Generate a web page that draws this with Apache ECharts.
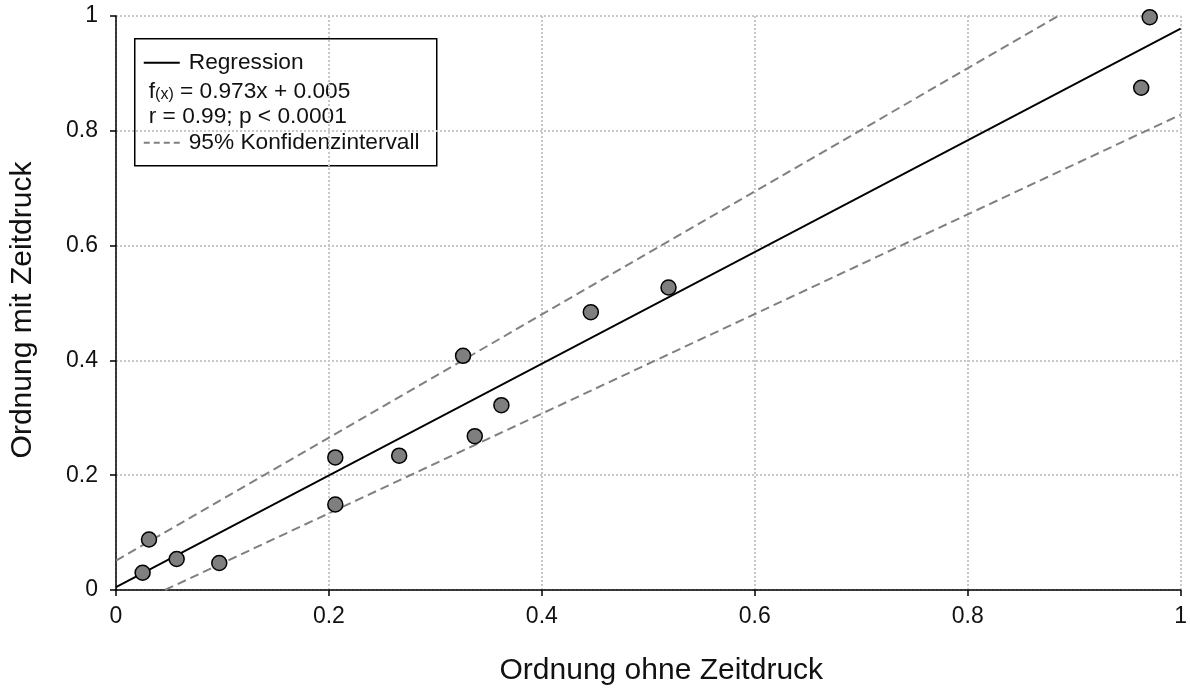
<!DOCTYPE html>
<html>
<head>
<meta charset="utf-8">
<title>Ordnung mit / ohne Zeitdruck</title>
<script src="https://cdn.jsdelivr.net/npm/echarts@6/dist/echarts.min.js"></script>
<style>
  html, body { margin: 0; padding: 0; background: #ffffff; }
  #chart { width: 1190px; height: 691px; }
</style>
</head>
<body>
<div id="chart"></div>
<script>
// Measured pairs: order without time pressure (x) vs. with time pressure (y)
const orderWithoutPressure = [0.025, 0.031, 0.057, 0.097, 0.206, 0.206, 0.266, 0.326, 0.337, 0.362, 0.446, 0.519, 0.963, 0.971];
const orderWithPressure    = [0.030, 0.088, 0.054, 0.047, 0.149, 0.231, 0.234, 0.408, 0.268, 0.322, 0.484, 0.527, 0.875, 0.998];

// Regression f(x) = slope * x + intercept
const slope = 0.973;
const intercept = 0.005;
const regressionX = [0, 1];

// 95% confidence band end points
const upperBand = [[0, 0.051], [0.885, 1]];
const lowerBand = [[0.046, 0], [1, 0.828]];

// Axis ticks
const axisMin = 0, axisMax = 1, axisStep = 0.2;

// Legend lines
const legendRows = ['Regression', 'f(x) = 0.973x + 0.005', 'r = 0.99; p < 0.0001', '95% Konfidenzintervall'];

const FONT = '"Liberation Sans", Arial, Helvetica, sans-serif';
const TEXT = '#111111';
const LEGEND_FONT = '22.7px ' + FONT;

const points = orderWithoutPressure.map((x, i) => [x, orderWithPressure[i]]);
const regressionLine = regressionX.map(x => [x, slope * x + intercept]);

const chart = echarts.init(document.getElementById('chart'), null, { renderer: 'canvas' });

const gridLine = { show: true, lineStyle: { color: '#c8c8c8', width: 2, type: [2, 2] } };
const tickFormatter = v => String(+v.toFixed(1));

function valueAxis(name, extra) {
  return Object.assign({
    type: 'value',
    min: axisMin,
    max: axisMax,
    interval: axisStep,
    name: name,
    nameLocation: 'middle',
    axisLine: { show: true, onZero: false, lineStyle: { color: '#000', width: 1.5 } },
    axisTick: { show: true, inside: false, length: 6, lineStyle: { color: '#000', width: 1.5 } },
    splitLine: gridLine
  }, extra);
}

const option = {
  backgroundColor: '#ffffff',
  animation: false,
  grid: { left: 116, right: 8, top: 16, bottom: 100, containLabel: false },
  xAxis: valueAxis('Ordnung ohne Zeitdruck', {
    nameGap: 66,
    nameTextStyle: { color: TEXT, fontFamily: FONT, fontSize: 30, padding: [0, 0, 0, 26] },
    axisLabel: { color: TEXT, fontFamily: FONT, fontSize: 23, margin: 15, formatter: tickFormatter }
  }),
  yAxis: valueAxis('Ordnung mit Zeitdruck', {
    nameGap: 78,
    nameRotate: 90,
    nameTextStyle: { color: TEXT, fontFamily: FONT, fontSize: 30, padding: [0, 14, 0, 0] },
    axisLabel: { color: TEXT, fontFamily: FONT, fontSize: 23, margin: 18, formatter: tickFormatter }
  }),
  series: [
    {
      name: '95% Konfidenzintervall (oben)',
      type: 'line',
      data: upperBand,
      symbol: 'none',
      lineStyle: { color: '#808080', width: 2, type: [9, 5] },
      z: 3
    },
    {
      name: '95% Konfidenzintervall (unten)',
      type: 'line',
      data: lowerBand,
      symbol: 'none',
      lineStyle: { color: '#808080', width: 2, type: [9, 5] },
      z: 3
    },
    {
      name: 'Regression',
      type: 'line',
      data: regressionLine,
      symbol: 'none',
      lineStyle: { color: '#000', width: 1.8 },
      z: 4
    },
    {
      name: 'Werte',
      type: 'scatter',
      data: points,
      symbol: 'circle',
      symbolSize: 15,
      clip: false,
      itemStyle: { color: '#7f7f7f', borderColor: '#000', borderWidth: 1.5, opacity: 1 },
      z: 5
    }
  ],
  graphic: [
    {
      type: 'group',
      left: 134,
      top: 38,
      z: 100,
      children: [
        {
          type: 'rect',
          shape: { x: 0, y: 0, width: 302, height: 127 },
          style: { fill: '#fff', stroke: '#000', lineWidth: 1.5 }
        },
        {
          type: 'line',
          shape: { x1: 9, y1: 24, x2: 45, y2: 24 },
          style: { stroke: '#000', lineWidth: 2 }
        },
        {
          type: 'text',
          x: 54, y: 24,
          style: { text: legendRows[0], font: LEGEND_FONT, fill: TEXT, verticalAlign: 'middle' }
        },
        {
          type: 'text',
          x: 14, y: 51,
          style: {
            text: '{m|f}{s|(x)}{m| = 0.973x + 0.005}',
            fill: TEXT,
            verticalAlign: 'middle',
            rich: {
              m: { fontFamily: FONT, fontSize: 22.7, lineHeight: 26, verticalAlign: 'bottom', fill: TEXT },
              s: { fontFamily: FONT, fontSize: 16, lineHeight: 12, verticalAlign: 'bottom', fill: TEXT }
            }
          }
        },
        {
          type: 'text',
          x: 14, y: 78,
          style: { text: legendRows[2], font: LEGEND_FONT, fill: TEXT, verticalAlign: 'middle' }
        },
        {
          type: 'line',
          shape: { x1: 9, y1: 104, x2: 45, y2: 104 },
          style: { stroke: '#808080', lineWidth: 2, lineDash: [6, 4] }
        },
        {
          type: 'text',
          x: 54, y: 104,
          style: { text: legendRows[3], font: LEGEND_FONT, fill: TEXT, verticalAlign: 'middle' }
        }
      ]
    }
  ]
};

chart.setOption(option);
</script>
</body>
</html>
